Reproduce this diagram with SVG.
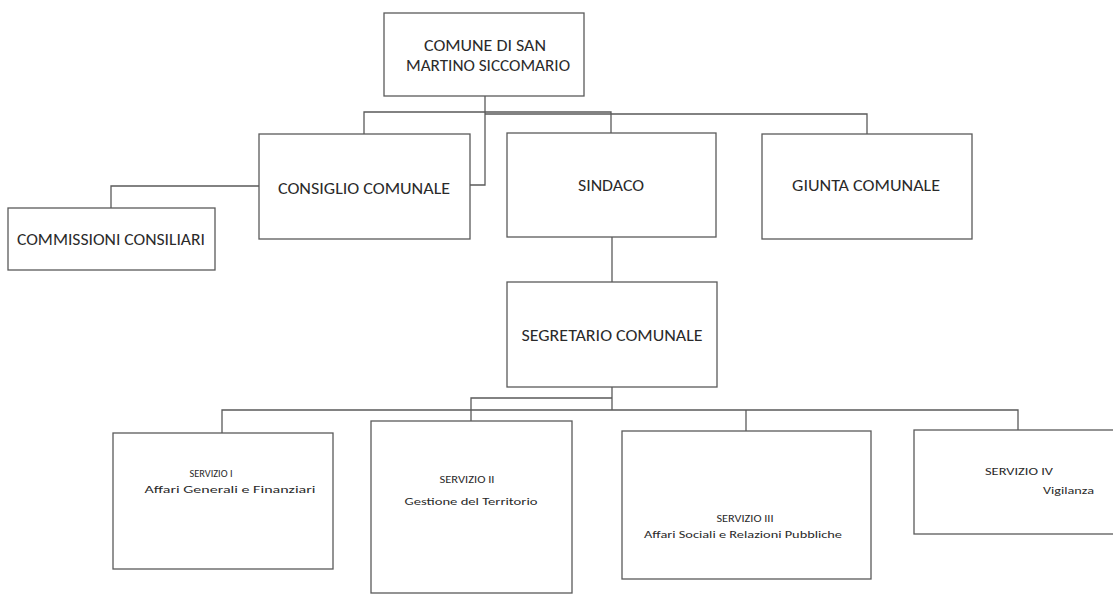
<svg xmlns="http://www.w3.org/2000/svg" width="1113" height="595" viewBox="0 0 1113 595">
<style>
.box{fill:#fff;stroke:#5a5a5a;stroke-width:1.3}
.ln{fill:none;stroke:#5a5a5a;stroke-width:1.3}
.t{font-family:Carlito,Lato,"Liberation Sans",sans-serif;font-size:16px;fill:#2a2a2a}
.s{font-family:Carlito,Lato,"Liberation Sans",sans-serif;font-size:11px;fill:#2a2a2a}
</style>
<rect width="1113" height="595" fill="#fff"/>
<g id="connectors">
<path class="ln" d="M485 96V185H470"/>
<path class="ln" d="M364 134V112H611V133"/>
<path class="ln" d="M485 114H867V134"/>
<path class="ln" d="M259 186H111V208"/>
<path class="ln" d="M612 237V282"/>
<path class="ln" d="M612 387V410"/>
<path class="ln" d="M612 398H471V421"/>
<path class="ln" d="M222 433V410H1018V430"/>
<path class="ln" d="M746 410V431"/>
</g>
<g id="comune">
<rect class="box" x="384" y="13" width="200" height="83"/>
<text class="t" x="485" y="51" text-anchor="middle" textLength="122" lengthAdjust="spacingAndGlyphs">COMUNE DI SAN</text>
<text class="t" x="488" y="71" text-anchor="middle" textLength="164" lengthAdjust="spacingAndGlyphs">MARTINO SICCOMARIO</text>
</g>
<g id="consiglio">
<rect class="box" x="259" y="134" width="211" height="105"/>
<text class="t" x="364" y="194" text-anchor="middle" textLength="172" lengthAdjust="spacingAndGlyphs">CONSIGLIO COMUNALE</text>
</g>
<g id="commissioni">
<rect class="box" x="8" y="208" width="207" height="62"/>
<text class="t" x="111" y="245" text-anchor="middle" textLength="188" lengthAdjust="spacingAndGlyphs">COMMISSIONI CONSILIARI</text>
</g>
<g id="sindaco">
<rect class="box" x="507" y="133" width="209" height="104"/>
<text class="t" x="611" y="191" text-anchor="middle" textLength="66" lengthAdjust="spacingAndGlyphs">SINDACO</text>
</g>
<g id="giunta">
<rect class="box" x="762" y="134" width="210" height="105"/>
<text class="t" x="866" y="191" text-anchor="middle" textLength="148" lengthAdjust="spacingAndGlyphs">GIUNTA COMUNALE</text>
</g>
<g id="segretario">
<rect class="box" x="507" y="282" width="210" height="105"/>
<text class="t" x="612" y="341" text-anchor="middle" textLength="181" lengthAdjust="spacingAndGlyphs">SEGRETARIO COMUNALE</text>
</g>
<g id="servizio1">
<rect class="box" x="113" y="433" width="220" height="136"/>
<text class="s" x="211" y="477" text-anchor="middle" textLength="43" lengthAdjust="spacingAndGlyphs">SERVIZIO I</text>
<text class="s" x="230" y="493" text-anchor="middle" textLength="171" lengthAdjust="spacingAndGlyphs">Affari Generali e Finanziari</text>
</g>
<g id="servizio2">
<rect class="box" x="371" y="421" width="201" height="172"/>
<text class="s" x="467" y="483" text-anchor="middle" textLength="55" lengthAdjust="spacingAndGlyphs">SERVIZIO II</text>
<text class="s" x="471" y="505" text-anchor="middle" textLength="133" lengthAdjust="spacingAndGlyphs">Gestione del Territorio</text>
</g>
<g id="servizio3">
<rect class="box" x="622" y="431" width="249" height="148"/>
<text class="s" x="745" y="522" text-anchor="middle" textLength="57" lengthAdjust="spacingAndGlyphs">SERVIZIO III</text>
<text class="s" x="743" y="538" text-anchor="middle" textLength="198" lengthAdjust="spacingAndGlyphs">Affari Sociali e Relazioni Pubbliche</text>
</g>
<g id="servizio4">
<rect class="box" x="914" y="430" width="210" height="104"/>
<text class="s" x="985" y="475" textLength="68" lengthAdjust="spacingAndGlyphs">SERVIZIO IV</text>
<text class="s" x="1094" y="494" text-anchor="end" textLength="51" lengthAdjust="spacingAndGlyphs">Vigilanza</text>
</g>
</svg>
